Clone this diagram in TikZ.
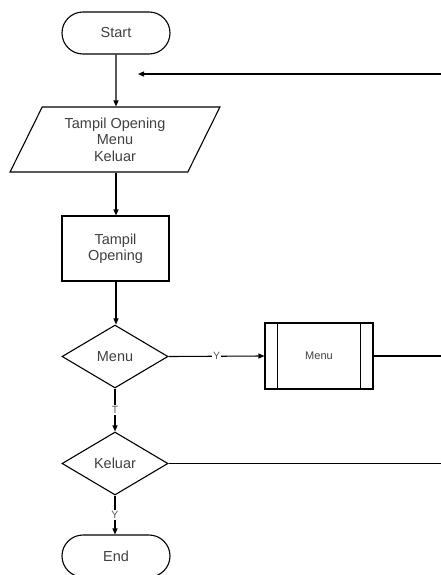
\documentclass[tikz,border=0pt]{standalone}
\usepackage{fontspec}
\setmainfont{Liberation Sans}
\usetikzlibrary{shapes.geometric,shapes.misc,arrows.meta}
\begin{document}
\begin{tikzpicture}[x=1pt,y=-1pt,
  base/.style={draw=black,line width=1.1pt,text=black!75,font=\fontsize{14.5}{16.5}\selectfont,align=center,inner sep=0pt},
  term/.style={base,rounded rectangle,minimum width=108pt,minimum height=42pt},
  iobox/.style={base,trapezium,trapezium left angle=63,trapezium right angle=117,trapezium stretches=true,minimum width=210pt,minimum height=65pt},
  procbox/.style={base,rectangle,minimum width=107pt,minimum height=65pt},
  decbox/.style={base,diamond,minimum width=106pt,minimum height=63pt,aspect=1.68},
  subbox/.style={base,rectangle,minimum width=108pt,minimum height=66pt,font=\fontsize{11}{12}\selectfont},
  conn/.style={line width=1.1pt,draw=black},
  arr/.style={conn,-{Triangle[length=6pt,width=5pt]}},
  lbl/.style={fill=white,text=black!65,font=\fontsize{10.5}{12}\selectfont,inner sep=1pt}]
\useasboundingbox[fill=white] (0,0) rectangle (441,575);

\node[term] (start) at (116,33) {Start};
\node[iobox] (io) at (115,139.5) {Tampil Opening\\Menu\\Keluar};
\node[procbox] (proc) at (115.5,248.5) {Tampil\\Opening};
\node[decbox] (dec1) at (115,356.5) {Menu};
\node[subbox] (sub) at (319,356) {Menu};
\node[decbox] (dec2) at (115,463.5) {Keluar};
\node[term] (end) at (116,556) {End};

\draw[conn] ([xshift=13pt]sub.north west) -- ([xshift=13pt]sub.south west);
\draw[conn] ([xshift=-13pt]sub.north east) -- ([xshift=-13pt]sub.south east);

\coordinate (r1) at (441,74);
\coordinate (a1) at (138,74);
\coordinate (r2) at (441,356);
\coordinate (r3) at (441,463.5);

\draw[arr] (start) -- (start |- io.north);
\draw[arr] (r1) -- (a1);
\draw[arr] (start |- io.south) -- (start |- proc.north);
\draw[arr] (start |- proc.south) -- (start |- dec1.north);
\draw[arr] (dec1.east) -- node[lbl] {Y} (sub.west);
\draw[conn] (sub.east) -- (r2);
\draw[arr] (dec1.south) -- node[lbl] {T} (dec2.north);
\draw[conn] (dec2.east) -- (r3);
\draw[arr] (dec2.south) -- node[lbl] {Y} (dec2.south |- end.north);
\end{tikzpicture}
\end{document}
